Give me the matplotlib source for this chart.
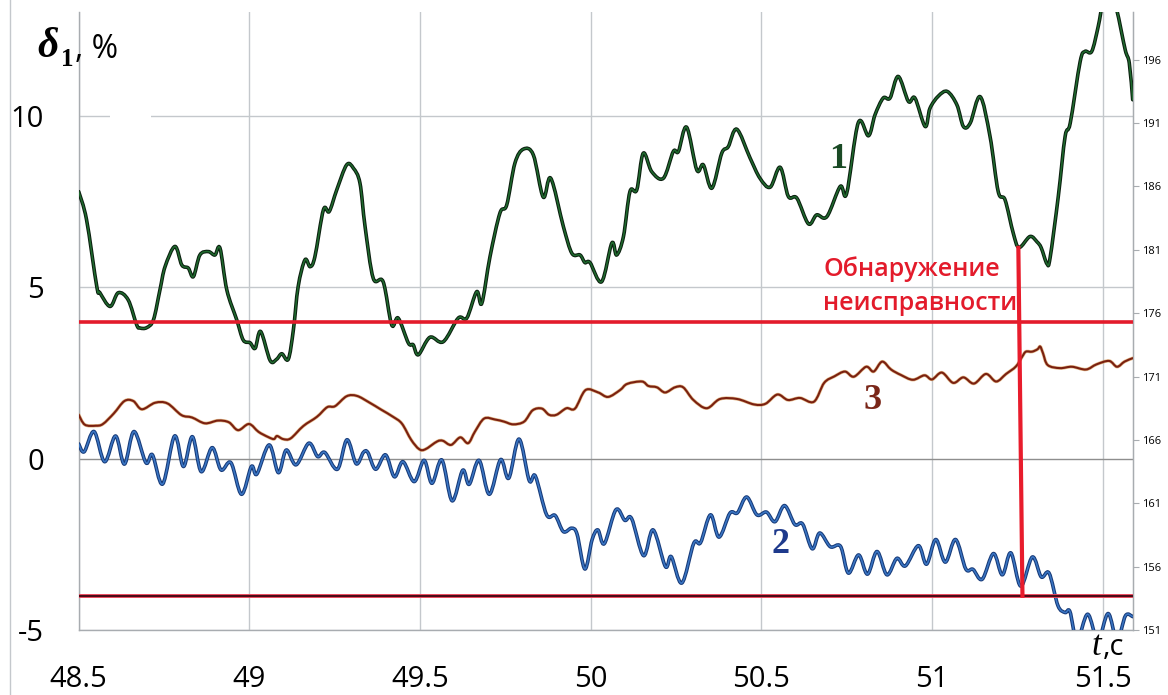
import matplotlib
matplotlib.use("Agg")
import matplotlib.pyplot as plt
from matplotlib.lines import Line2D
from matplotlib.patches import Rectangle, PathPatch
from matplotlib.path import Path

# curve 1 (green)
t1 = [48.500, 48.523, 48.553, 48.562, 48.592, 48.616, 48.645, 48.670, 48.680, 48.699,
      48.719, 48.738, 48.753, 48.782, 48.802, 48.821, 48.836, 48.855, 48.880, 48.899,
      48.914, 48.934, 48.963, 48.982, 49.002, 49.017, 49.033, 49.061, 49.080, 49.095,
      49.114, 49.129, 49.143, 49.163, 49.178, 49.192, 49.217, 49.234, 49.256, 49.285,
      49.305, 49.324, 49.339, 49.363, 49.392, 49.417, 49.436, 49.466, 49.480, 49.495,
      49.529, 49.568, 49.612, 49.637, 49.666, 49.681, 49.705, 49.734, 49.754, 49.778,
      49.803, 49.832, 49.861, 49.883, 49.920, 49.945, 49.969, 49.983, 49.998, 50.032,
      50.062, 50.076, 50.096, 50.115, 50.135, 50.154, 50.179, 50.213, 50.242, 50.257,
      50.281, 50.311, 50.330, 50.355, 50.384, 50.403, 50.428, 50.467, 50.496, 50.526,
      50.555, 50.579, 50.604, 50.638, 50.662, 50.692, 50.731, 50.750, 50.784, 50.814,
      50.833, 50.857, 50.877, 50.901, 50.931, 50.950, 50.980, 50.994, 51.019, 51.045,
      51.073, 51.092, 51.112, 51.141, 51.170, 51.194, 51.214, 51.238, 51.255, 51.287,
      51.308, 51.320, 51.337, 51.346, 51.370, 51.390, 51.405, 51.434, 51.448, 51.468,
      51.487, 51.501, 51.522, 51.541, 51.566, 51.578, 51.588]
y1 = [7.79, 6.97, 5.02, 4.84, 4.44, 4.84, 4.63, 3.90, 3.81, 3.82,
      4.05, 4.92, 5.60, 6.19, 5.65, 5.56, 5.31, 5.94, 6.04, 5.94,
      6.14, 4.92, 4.05, 3.46, 3.38, 3.22, 3.71, 2.86, 2.90, 3.06,
      2.90, 3.76, 5.02, 5.80, 5.60, 5.89, 7.26, 7.21, 7.84, 8.57,
      8.47, 8.04, 6.77, 5.26, 5.16, 3.90, 4.10, 3.37, 3.32, 3.03,
      3.54, 3.41, 4.10, 4.10, 4.87, 4.53, 5.89, 7.16, 7.40, 8.62,
      9.03, 8.86, 7.63, 8.18, 6.77, 5.99, 5.94, 5.72, 5.72, 5.16,
      6.29, 5.94, 6.48, 7.79, 7.84, 8.91, 8.37, 8.18, 8.96, 8.96,
      9.67, 8.42, 8.57, 7.89, 8.91, 9.10, 9.61, 8.77, 8.18, 7.92,
      8.50, 7.65, 7.60, 6.85, 7.11, 7.06, 7.94, 7.74, 9.80, 9.42,
      10.03, 10.52, 10.52, 11.15, 10.42, 10.52, 9.69, 10.22, 10.58, 10.71,
      10.32, 9.69, 9.79, 10.56, 9.40, 7.79, 7.55, 6.58, 6.16, 6.48,
      6.32, 6.15, 5.68, 5.86, 7.65, 9.40, 9.79, 11.58, 11.88, 11.88,
      12.61, 13.30, 13.60, 13.10, 11.93, 11.54, 10.47]

# curve 2 (blue)
t2 = [48.500, 48.516, 48.545, 48.576, 48.608, 48.634, 48.662, 48.697, 48.716, 48.746,
      48.781, 48.807, 48.833, 48.859, 48.891, 48.917, 48.946, 48.977, 49.006, 49.022,
      49.058, 49.085, 49.108, 49.137, 49.174, 49.200, 49.221, 49.258, 49.286, 49.313,
      49.334, 49.347, 49.370, 49.399, 49.425, 49.450, 49.483, 49.512, 49.535, 49.564,
      49.594, 49.625, 49.644, 49.673, 49.703, 49.736, 49.760, 49.790, 49.820, 49.838,
      49.871, 49.896, 49.920, 49.944, 49.960, 49.983, 50.004, 50.021, 50.040, 50.074,
      50.100, 50.120, 50.155, 50.183, 50.219, 50.236, 50.267, 50.302, 50.322, 50.351,
      50.376, 50.408, 50.430, 50.457, 50.487, 50.515, 50.540, 50.568, 50.598, 50.621,
      50.649, 50.671, 50.702, 50.732, 50.755, 50.785, 50.811, 50.839, 50.868, 50.897,
      50.922, 50.960, 50.984, 51.011, 51.039, 51.069, 51.099, 51.120, 51.147, 51.180,
      51.206, 51.231, 51.260, 51.294, 51.320, 51.343, 51.369, 51.390, 51.404, 51.425,
      51.456, 51.486, 51.516, 51.542, 51.567, 51.588]
y2 = [0.43, 0.20, 0.79, -0.09, 0.66, -0.16, 0.79, -0.12, 0.11, -0.74,
      0.66, -0.23, 0.64, -0.38, 0.32, -0.33, -0.12, -1.04, -0.23, -0.45,
      0.40, -0.41, 0.25, -0.18, 0.45, 0.06, 0.18, -0.31, 0.55, -0.15,
      0.18, 0.18, -0.31, 0.11, -0.53, -0.09, -0.67, -0.05, -0.72, -0.04,
      -1.23, -0.34, -0.75, -0.05, -1.04, -0.03, -0.57, 0.57, -0.64, -0.51,
      -1.64, -1.66, -2.13, -2.03, -2.20, -3.22, -2.37, -2.08, -2.48, -1.49,
      -1.80, -1.75, -2.83, -2.08, -3.15, -2.86, -3.63, -2.47, -2.45, -1.64,
      -2.29, -1.59, -1.58, -1.12, -1.64, -1.56, -1.84, -1.37, -1.92, -1.91,
      -2.63, -2.17, -2.57, -2.56, -3.34, -2.81, -3.37, -2.71, -3.39, -2.91,
      -3.13, -2.54, -3.08, -2.36, -3.02, -2.36, -3.22, -3.23, -3.52, -2.77,
      -3.39, -2.75, -3.72, -2.87, -3.45, -3.34, -4.29, -4.49, -4.46, -5.30,
      -4.54, -5.30, -4.52, -5.30, -4.58, -4.61]

# curve 3 (brown)
t3 = [48.500, 48.518, 48.550, 48.571, 48.603, 48.634, 48.660, 48.685, 48.724, 48.760,
      48.801, 48.832, 48.870, 48.908, 48.940, 48.967, 48.999, 49.027, 49.055, 49.072,
      49.081, 49.099, 49.121, 49.158, 49.198, 49.228, 49.251, 49.285, 49.315, 49.351,
      49.386, 49.421, 49.447, 49.474, 49.497, 49.515, 49.550, 49.567, 49.591, 49.618,
      49.641, 49.661, 49.688, 49.720, 49.746, 49.773, 49.805, 49.830, 49.857, 49.878,
      49.900, 49.929, 49.954, 49.985, 50.022, 50.051, 50.086, 50.107, 50.150, 50.169,
      50.194, 50.218, 50.247, 50.271, 50.301, 50.340, 50.379, 50.429, 50.479, 50.512,
      50.547, 50.578, 50.613, 50.654, 50.684, 50.714, 50.745, 50.771, 50.807, 50.829,
      50.854, 50.880, 50.909, 50.944, 50.978, 51.000, 51.029, 51.062, 51.092, 51.123,
      51.158, 51.188, 51.217, 51.246, 51.264, 51.275, 51.293, 51.309, 51.317, 51.325,
      51.339, 51.375, 51.410, 51.451, 51.482, 51.519, 51.542, 51.564, 51.588]
y3 = [1.28, 0.99, 0.96, 1.01, 1.32, 1.68, 1.68, 1.44, 1.63, 1.61,
      1.27, 1.20, 1.03, 1.11, 1.06, 0.83, 1.01, 0.78, 0.63, 0.57,
      0.66, 0.57, 0.59, 0.95, 1.22, 1.50, 1.53, 1.82, 1.83, 1.64,
      1.43, 1.22, 1.02, 0.55, 0.28, 0.27, 0.50, 0.52, 0.40, 0.62,
      0.45, 0.79, 1.17, 1.14, 1.08, 1.00, 1.08, 1.41, 1.46, 1.28,
      1.28, 1.47, 1.46, 2.00, 1.93, 1.80, 2.00, 2.18, 2.25, 2.12,
      2.08, 1.93, 2.08, 2.08, 1.71, 1.47, 1.74, 1.74, 1.58, 1.60,
      1.87, 1.71, 1.77, 1.66, 2.21, 2.40, 2.54, 2.39, 2.68, 2.54,
      2.83, 2.60, 2.44, 2.30, 2.43, 2.31, 2.51, 2.21, 2.37, 2.19,
      2.47, 2.25, 2.47, 2.69, 2.97, 3.12, 3.12, 3.19, 3.27, 3.08,
      2.73, 2.64, 2.68, 2.60, 2.75, 2.85, 2.68, 2.83, 2.93]

# thresholds and fault marker
upper_limit = 4.0
lower_limit = -4.0
fault_t = [51.253, 51.265]
fault_y = [6.15, -4.0]

x_ticks = [48.5, 49, 49.5, 50, 50.5, 51, 51.5]
x_labels = ["48.5", "49", "49.5", "50", "50.5", "51", "51.5"]
y_ticks = [-5, 0, 5, 10]
y2_ticks = [151, 156, 161, 166, 171, 176, 181, 186, 191, 196]


def smooth_path(xs, ys):
    # Excel-style smoothed line: cubic Bezier segments through every point
    n = len(xs)
    verts = [(xs[0], ys[0])]
    codes = [Path.MOVETO]
    for i in range(n - 1):
        x0, y0 = (xs[i - 1], ys[i - 1]) if i > 0 else (xs[i], ys[i])
        x3, y3_ = (xs[i + 2], ys[i + 2]) if i + 2 < n else (xs[i + 1], ys[i + 1])
        c1 = (xs[i] + (xs[i + 1] - x0) / 6, ys[i] + (ys[i + 1] - y0) / 6)
        c2 = (xs[i + 1] - (x3 - xs[i]) / 6, ys[i + 1] - (y3_ - ys[i]) / 6)
        verts += [c1, c2, (xs[i + 1], ys[i + 1])]
        codes += [Path.CURVE4] * 3
    return Path(verts, codes)


def plot_smooth(ax, xs, ys, color, lw, z, alpha=1.0):
    patch = PathPatch(smooth_path(xs, ys), facecolor="none", edgecolor=color, lw=lw,
                      alpha=alpha, zorder=z, joinstyle="round", capstyle="round")
    ax.add_patch(patch)


W, H = 1168, 695
plt.rcParams["font.family"] = ["Open Sans", "DejaVu Sans"]
fig = plt.figure(figsize=(W / 100, H / 100), dpi=100)
ax = fig.add_axes([78.7 / W, 1 - 630 / H, (1132.7 - 78.7) / W, (630 - 12) / H])

ax.set_xlim(48.5, 51.588)
ax.set_ylim(-5, 13.03)

grid_c = "#c4c8cc"
for xv in x_ticks:
    ax.axvline(xv, color=grid_c, lw=1.0, zorder=0)
for yv in y_ticks:
    ax.axhline(yv, color="#8e8e8e" if yv == 0 else grid_c, lw=1.0, zorder=0)

ax.spines["top"].set_visible(False)
for s in ["left", "bottom", "right"]:
    ax.spines[s].set_color("#a8acb0")
    ax.spines[s].set_linewidth(1.0)

ax.set_xticks(x_ticks)
ax.set_xticklabels(x_labels)
ax.set_yticks(y_ticks)
ax.set_yticklabels([str(v) for v in y_ticks])
ax.tick_params(axis="x", length=0, pad=25, labelsize=21)
ax.tick_params(axis="y", length=0, pad=25, labelsize=21)

# curves (dark outline + coloured core)
plot_smooth(ax, t1, y1, "#0b1f0f", 2.6, 3)
plot_smooth(ax, t1, y1, "#1f6a2e", 1.1, 3.1)
plot_smooth(ax, t3, y3, "#d08a3a", 2.4, 3, alpha=0.6)
plot_smooth(ax, t3, y3, "#7a2010", 1.5, 3.1)
plot_smooth(ax, t2, y2, "#173a78", 2.6, 3)
plot_smooth(ax, t2, y2, "#3a76c4", 1.1, 3.1)

# threshold lines
ax.axhline(upper_limit, color="#e31b2b", lw=2.6, zorder=4)
ax.axhline(lower_limit, color="#e8455a", lw=2.8, zorder=4)
ax.axhline(lower_limit, color="#3c0610", lw=1.3, zorder=4.1)
ax.plot(fault_t, fault_y, color="#e81c2c", lw=3.0, zorder=5)

# curve labels
ax.text(50.726, 8.73, "1", family="Liberation Serif", weight="bold", fontsize=26,
        color="#1a4a25", ha="center", va="center", zorder=6)
ax.text(50.827, 1.69, "3", family="Liberation Serif", weight="bold", fontsize=26,
        color="#7a2618", ha="center", va="center", zorder=6)
ax.text(50.555, -2.52, "2", family="Liberation Serif", weight="bold", fontsize=26,
        color="#1e3a8c", ha="center", va="center", zorder=6)

ax.text(50.681, 5.33, "Обнаружение", fontsize=18, weight="semibold", color="#e31b2b",
        ha="left", va="baseline", zorder=6)
ax.text(50.681, 4.33, "неисправности", fontsize=18, weight="semibold", color="#e31b2b",
        ha="left", va="baseline", zorder=6)

# right axis
ax2 = ax.twinx()
ax2.set_ylim(151, 199.76)
ax2.set_yticks(y2_ticks)
ax2.tick_params(axis="y", direction="out", length=4, color="#a8acb0", labelsize=8, pad=3)
for s in ["top", "left", "bottom"]:
    ax2.spines[s].set_visible(False)
ax2.spines["right"].set_color("#a8acb0")

# gap in the 10 gridline
fig.add_artist(Rectangle((110 / W, 1 - 118 / H), 41 / W, 6 / H, transform=fig.transFigure,
                         facecolor="white", edgecolor="none", zorder=10))
# chart area border on the left
fig.add_artist(Line2D([9.5 / W, 9.5 / W], [0, 1], transform=fig.transFigure,
                      color="#c4c8cc", lw=1.0))

# axis titles
fig.text(37 / W, 1 - 57 / H, "δ", family="Liberation Serif", style="italic", weight="bold",
         fontsize=30, va="baseline")
fig.text(61 / W, 1 - 66 / H, "1", family="Liberation Serif", weight="bold",
         fontsize=18, va="baseline")
fig.text(75 / W, 1 - 58 / H, ", %", fontsize=23, va="baseline")
fig.text(1091 / W, 1 - 655 / H, "t", family="Liberation Serif", style="italic",
         fontsize=25, va="baseline")
fig.text(1103 / W, 1 - 655 / H, ",c", fontsize=21, va="baseline")

fig.savefig("out.png", dpi=100)
